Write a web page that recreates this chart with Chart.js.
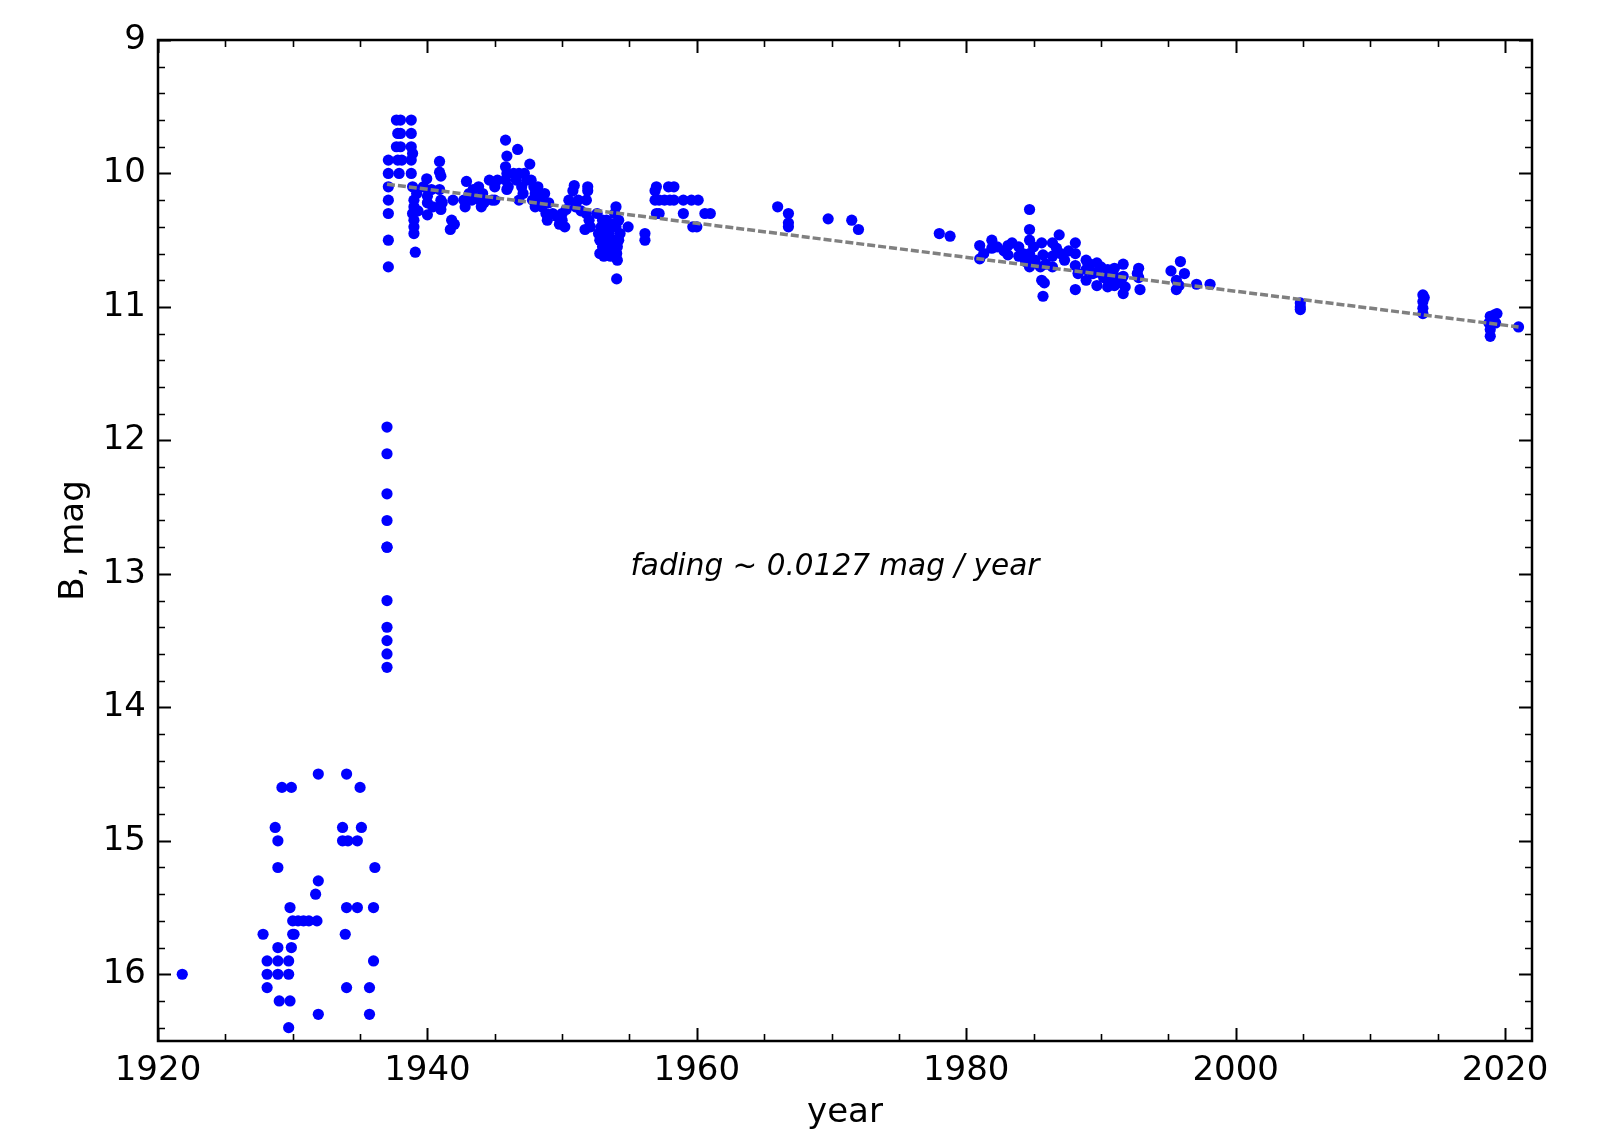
<!DOCTYPE html>
<html>
<head>
<meta charset="utf-8">
<script src="https://cdn.jsdelivr.net/npm/chart.js@4"></script>
<style>
  html, body { margin: 0; padding: 0; background: #fff; }
  #wrap { width: 1597px; height: 1134px; }
</style>
</head>
<body>
<div id="wrap"><canvas id="chart" width="1597" height="1134"></canvas></div>
<script>
// --- data ---
// quiescence before the outburst
const preYears = [1921.8, 1927.8, 1928.1, 1928.1, 1928.1, 1928.7, 1928.9, 1928.9, 1928.9, 1928.9, 1928.9,
  1929.0, 1929.2, 1929.7, 1929.7, 1929.7, 1929.8, 1929.8, 1929.9, 1929.9, 1930.0, 1930.0, 1930.1,
  1930.4, 1930.8, 1931.2, 1931.7, 1931.8, 1931.9, 1931.9, 1931.9, 1933.7, 1933.7, 1933.9, 1934.0,
  1934.0, 1934.0, 1934.1, 1934.8, 1934.8, 1935.0, 1935.1, 1935.7, 1935.7, 1936.0, 1936.0, 1936.1];
const preMags = [16.0, 15.7, 15.9, 16.0, 16.1, 14.9, 15.0, 15.2, 15.8, 15.9, 16.0,
  16.2, 14.6, 15.9, 16.0, 16.4, 15.5, 16.2, 14.6, 15.8, 15.6, 15.7, 15.7,
  15.6, 15.6, 15.6, 15.4, 15.6, 14.5, 15.3, 16.3, 14.9, 15.0, 15.7, 14.5,
  15.5, 16.1, 15.0, 15.0, 15.5, 14.6, 14.9, 16.1, 16.3, 15.5, 15.9, 15.2];

// rise in 1937
const riseYears = [1937.0, 1937.0, 1937.0, 1937.0, 1937.0, 1937.0, 1937.0, 1937.0, 1937.0, 1937.0, 1937.0,
  1937.1, 1937.1, 1937.1, 1937.1, 1937.1, 1937.1, 1937.1];
const riseMags = [11.9, 12.1, 12.4, 12.6, 12.8, 12.8, 13.2, 13.4, 13.5, 13.6, 13.7,
  10.7, 10.5, 10.3, 10.2, 10.1, 10.0, 9.9];

// plateau 1937-1975
const midYears = [1937.7, 1938.0, 1937.8, 1938.0, 1937.7, 1938.0, 1937.8, 1938.1, 1937.9,
  1938.8, 1938.8, 1938.8, 1938.9, 1938.8, 1938.8,
  1938.9, 1939.0, 1939.0, 1938.9, 1939.0, 1939.0, 1939.0, 1939.1, 1939.2, 1939.3,
  1939.7, 1939.95, 1940.0, 1940.0, 1940.0, 1940.3, 1940.4,
  1940.9, 1940.9, 1941.0, 1940.9, 1941.0, 1941.0, 1941.1,
  1941.7, 1941.8, 1941.9, 1942.0,
  1942.9, 1942.7, 1942.8, 1943.1, 1943.3, 1943.4,
  1943.8, 1943.9, 1944.0, 1944.1, 1944.2,
  1944.6, 1944.8, 1945.0, 1945.2, 1945.0,
  1945.8, 1945.9, 1945.8, 1945.9, 1945.8, 1946.0, 1945.9,
  1946.7, 1946.4, 1946.6, 1946.8, 1947.0, 1947.1, 1946.8, 1947.2, 1947.4,
  1947.6, 1947.7, 1947.9, 1948.0, 1947.8, 1948.0,
  1948.2, 1948.4, 1948.5, 1948.7, 1948.8, 1948.9, 1949.0,
  1949.3, 1949.6, 1949.8, 1950.0, 1950.2, 1950.0, 1950.3,
  1950.5, 1950.8, 1950.9, 1951.0, 1951.2, 1951.4,
  1951.8, 1951.9, 1951.9, 1951.8, 1952.0, 1951.7, 1952.1,
  1952.6, 1952.7, 1952.8, 1952.8, 1953.0, 1953.0, 1953.2, 1953.2, 1953.4, 1953.5, 1953.6, 1953.8,
  1952.9, 1953.1, 1953.3, 1953.4, 1953.7, 1953.9, 1954.1, 1953.6, 1953.3,
  1953.9, 1954.0, 1954.0, 1954.05, 1954.1, 1954.2, 1954.05, 1954.3, 1954.2,
  1954.9, 1956.15, 1956.15,
  1956.9, 1957.0, 1956.9, 1957.0, 1957.2, 1957.2, 1957.9, 1957.6, 1958.3, 1958.0, 1958.3,
  1959.0, 1959.0, 1959.6, 1959.7, 1960.0, 1960.1, 1960.6, 1961.0,
  1966.0, 1966.8, 1966.8, 1966.8, 1969.75, 1971.5, 1972.0];
const midMags = [9.6, 9.6, 9.7, 9.7, 9.8, 9.8, 9.9, 9.9, 10.0,
  9.6, 9.7, 9.8, 9.85, 9.9, 10.0,
  10.1, 10.2, 10.25, 10.3, 10.35, 10.4, 10.45, 10.59, 10.15, 10.28,
  10.1, 10.04, 10.17, 10.22, 10.31, 10.12, 10.25,
  9.91, 9.99, 10.02, 10.12, 10.2, 10.27, 10.22,
  10.42, 10.35, 10.2, 10.38,
  10.06, 10.2, 10.25, 10.15, 10.2, 10.12,
  10.1, 10.2, 10.25, 10.15, 10.22,
  10.05, 10.2, 10.2, 10.05, 10.1,
  9.75, 9.87, 9.95, 10.0, 10.05, 10.1, 10.12,
  9.82, 10.0, 10.05, 10.0, 10.1, 10.15, 10.2, 10.0, 10.05,
  9.93, 10.05, 10.1, 10.15, 10.2, 10.25,
  10.1, 10.2, 10.25, 10.15, 10.3, 10.35, 10.22,
  10.3, 10.32, 10.38, 10.35, 10.4, 10.3, 10.27,
  10.2, 10.13, 10.09, 10.25, 10.2, 10.28,
  10.2, 10.1, 10.13, 10.3, 10.35, 10.42, 10.4,
  10.3, 10.45, 10.5, 10.6, 10.55, 10.35, 10.5, 10.4, 10.6, 10.45, 10.55, 10.5,
  10.4, 10.62, 10.45, 10.52, 10.38, 10.58, 10.55, 10.62, 10.35,
  10.3, 10.25, 10.4, 10.6, 10.65, 10.5, 10.79, 10.45, 10.35,
  10.4, 10.45, 10.5,
  10.13, 10.1, 10.2, 10.3, 10.3, 10.2, 10.1, 10.2, 10.1, 10.2, 10.2,
  10.2, 10.3, 10.2, 10.4, 10.4, 10.2, 10.3, 10.3,
  10.25, 10.3, 10.37, 10.4, 10.34, 10.35, 10.42];

// modern observations 1978-2021
const lateYears = [1978.0, 1978.8,
  1981.0, 1981.0, 1981.3, 1981.9, 1981.9, 1982.3,
  1983.1, 1983.1, 1982.8, 1983.4, 1983.9, 1983.9, 1984.2, 1984.4,
  1984.7, 1984.7, 1984.7, 1984.7, 1984.7, 1984.7, 1985.0, 1985.1,
  1985.6, 1985.7, 1985.6, 1985.8, 1985.7, 1985.9, 1985.5,
  1986.4, 1986.4, 1986.4, 1986.9, 1986.7, 1987.0, 1987.3, 1987.6,
  1988.1, 1988.1, 1988.1, 1988.1, 1988.3,
  1988.9, 1988.9, 1988.9, 1989.2, 1989.4,
  1989.7, 1989.7, 1989.7, 1990.0, 1990.2,
  1990.5, 1990.5, 1990.5, 1990.8,
  1991.0, 1991.0, 1991.0, 1991.3,
  1991.65, 1991.65, 1991.65, 1991.8, 1991.5,
  1992.8, 1992.8, 1992.9, 1992.7,
  1995.2, 1995.9, 1996.2, 1995.6, 1995.6, 1995.8,
  1997.1, 1998.1,
  2004.8, 2004.8, 2004.8,
  2013.9, 2013.9, 2013.9, 2013.9, 2014.0,
  2018.9, 2018.8, 2018.9, 2019.2, 2019.3, 2018.9, 2019.1, 2019.4,
  2021.0];
const lateMags = [10.45, 10.47,
  10.54, 10.64, 10.6, 10.5, 10.56, 10.55,
  10.54, 10.61, 10.58, 10.52, 10.55, 10.62, 10.6, 10.66,
  10.27, 10.42, 10.5, 10.6, 10.64, 10.7, 10.55, 10.65,
  10.52, 10.61, 10.8, 10.82, 10.92, 10.68, 10.7,
  10.52, 10.62, 10.7, 10.46, 10.56, 10.6, 10.65, 10.58,
  10.52, 10.6, 10.69, 10.87, 10.75,
  10.65, 10.72, 10.8, 10.68, 10.75,
  10.67, 10.74, 10.84, 10.7, 10.78,
  10.72, 10.8, 10.85, 10.75,
  10.71, 10.77, 10.84, 10.8,
  10.68, 10.77, 10.9, 10.85, 10.82,
  10.71, 10.78, 10.87, 10.75,
  10.73, 10.66, 10.75, 10.8, 10.87, 10.84,
  10.83, 10.83,
  10.97, 11.0, 11.02,
  10.91, 10.96, 11.01, 11.05, 10.93,
  11.07, 11.12, 11.17, 11.06, 11.12, 11.22, 11.1, 11.05,
  11.15];

// linear fading trend
const trendYears = [1937, 2021];
const trendMags = [10.08, 11.15];

const xTicks = [1920, 1940, 1960, 1980, 2000, 2020];
const yTicks = [9, 10, 11, 12, 13, 14, 15, 16];
const noteText = 'fading ~ 0.0127 mag / year';

const allYears = preYears.concat(riseYears, midYears, lateYears);
const allMags = preMags.concat(riseMags, midMags, lateMags);
const points = allYears.map((x, i) => ({ x: x, y: allMags[i] }));
const trend = trendYears.map((x, i) => ({ x: x, y: trendMags[i] }));

const FONT = 'DejaVu Sans';

// matplotlib-like frame with inward ticks on all four sides, plus the note
const frameTicks = {
  id: 'frameTicks',
  afterDraw(chart) {
    const ctx = chart.ctx;
    const a = chart.chartArea;
    const xs = chart.scales.x, ys = chart.scales.y;
    ctx.save();
    ctx.strokeStyle = '#000';
    ctx.lineCap = 'butt';

    const tick = (len, lw, xv, yv) => {
      ctx.lineWidth = lw;
      ctx.beginPath();
      xv.forEach(v => {
        const px = Math.round(xs.getPixelForValue(v)) + 0.5;
        ctx.moveTo(px, a.bottom); ctx.lineTo(px, a.bottom - len);
        ctx.moveTo(px, a.top); ctx.lineTo(px, a.top + len);
      });
      yv.forEach(v => {
        const py = Math.round(ys.getPixelForValue(v)) + 0.5;
        ctx.moveTo(a.left, py); ctx.lineTo(a.left + len, py);
        ctx.moveTo(a.right, py); ctx.lineTo(a.right - len, py);
      });
      ctx.stroke();
    };

    const minorX = [];
    for (let v = 1925; v <= 2020; v += 5) if (v % 20 !== 0) minorX.push(v);
    const minorY = [];
    for (let i = 0; i <= 37; i++) {
      const v = Math.round((9 + i * 0.2) * 10) / 10;
      if (Math.abs(v - Math.round(v)) > 0.01) minorY.push(v);
    }
    tick(7, 1.6, minorX, minorY);
    tick(13, 2, xTicks, yTicks);

    ctx.lineWidth = 2.5;
    ctx.strokeRect(a.left, a.top, a.right - a.left, a.bottom - a.top);

    ctx.fillStyle = '#000';
    ctx.font = 'italic 29.5px "' + FONT + '"';
    ctx.textAlign = 'center';
    ctx.textBaseline = 'middle';
    ctx.fillText(noteText, xs.getPixelForValue(1970.25), ys.getPixelForValue(12.95));
    ctx.restore();
  }
};

new Chart(document.getElementById('chart'), {
  type: 'scatter',
  data: {
    datasets: [
      {
        type: 'line',
        data: trend,
        borderColor: '#808080',
        borderWidth: 3.5,
        borderDash: [8, 3],
        pointRadius: 0,
        fill: false,
        order: 0
      },
      {
        data: points,
        backgroundColor: '#0000ff',
        borderWidth: 0,
        pointRadius: 5.6,
        order: 1
      }
    ]
  },
  options: {
    responsive: false,
    animation: false,
    layout: { padding: { left: 0, top: 40, right: 65, bottom: 0 } },
    plugins: {
      legend: { display: false },
      tooltip: { enabled: false }
    },
    scales: {
      x: {
        type: 'linear',
        min: 1920,
        max: 2022,
        afterBuildTicks: s => { s.ticks = xTicks.map(v => ({ value: v })); },
        afterFit: s => { s.height = 93; },
        grid: { display: false, drawTicks: false },
        border: { display: false },
        ticks: {
          padding: 10,
          maxRotation: 0,
          autoSkip: false,
          color: '#000',
          font: { family: FONT, size: 34 },
          callback: v => String(v)
        },
        title: {
          display: true,
          text: 'year',
          color: '#000',
          font: { family: FONT, size: 34 },
          padding: { top: 0, bottom: 0 }
        }
      },
      y: {
        type: 'linear',
        min: 9,
        max: 16.5,
        reverse: true,
        afterBuildTicks: s => { s.ticks = yTicks.map(v => ({ value: v })); },
        afterFit: s => { s.width = 158; },
        grid: { display: false, drawTicks: false },
        border: { display: false },
        ticks: {
          padding: 12,
          autoSkip: false,
          color: '#000',
          font: { family: FONT, size: 34 },
          callback: v => String(v)
        },
        title: {
          display: true,
          text: 'B, mag',
          color: '#000',
          font: { family: FONT, size: 34 },
          padding: { top: 54, bottom: 0 }
        }
      }
    }
  },
  plugins: [frameTicks]
});
</script>
</body>
</html>
